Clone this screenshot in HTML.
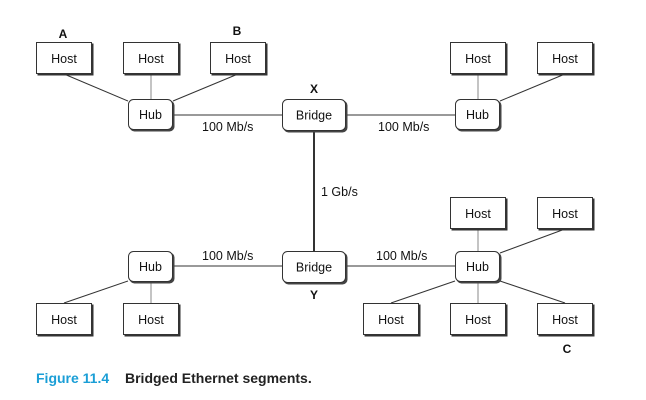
<!DOCTYPE html>
<html><head><meta charset="utf-8"><style>
html,body{margin:0;padding:0;background:#fff;}
svg{display:block;}
text{font-family:"Liberation Sans",Arial,sans-serif;}
</style></head><body>
<svg width="646" height="400" viewBox="0 0 646 400" xmlns="http://www.w3.org/2000/svg">
<g stroke="#333" stroke-width="1" fill="none">
<line x1="64" y1="74" x2="128" y2="101"/>
<line x1="151" y1="74" x2="151" y2="100" stroke="#888"/>
<line x1="238" y1="74" x2="173" y2="101"/>
<line x1="173" y1="115" x2="282" y2="115"/>
<line x1="346" y1="115" x2="455" y2="115"/>
<line x1="478" y1="74" x2="478" y2="100" stroke="#888"/>
<line x1="565" y1="74" x2="500" y2="101"/>
<line x1="314" y1="131" x2="314" y2="251" stroke-width="2"/>
<line x1="173" y1="266" x2="282" y2="266"/>
<line x1="346" y1="266" x2="455" y2="266"/>
<line x1="128" y1="281" x2="64" y2="303"/>
<line x1="151" y1="282" x2="151" y2="303" stroke="#888"/>
<line x1="478" y1="229" x2="478" y2="251" stroke="#888"/>
<line x1="565" y1="229" x2="500" y2="253"/>
<line x1="455" y1="281" x2="391" y2="303"/>
<line x1="478" y1="282" x2="478" y2="303" stroke="#888"/>
<line x1="500" y1="281" x2="565" y2="303"/>
</g>
<defs>
<g id="host">
<rect x="1.5" y="1.5" width="56" height="32" fill="#333"/>
<rect x="0.5" y="0.5" width="55" height="31" fill="#fff" stroke="#333"/>
<text x="28" y="21" font-size="12.5" text-anchor="middle" fill="#111">Host</text>
</g>
<g id="hub">
<rect x="1.5" y="1.5" width="45" height="31" rx="5" fill="#444"/>
<rect x="0.5" y="0.5" width="44" height="30" rx="5" fill="#fff" stroke="#333"/>
<text x="22.5" y="20" font-size="12.5" text-anchor="middle" fill="#111">Hub</text>
</g>
<g id="bridge">
<rect x="1.5" y="1.5" width="64" height="32" rx="5" fill="#444"/>
<rect x="0.5" y="0.5" width="63" height="31" rx="5" fill="#fff" stroke="#333"/>
<text x="32" y="20.5" font-size="12.5" text-anchor="middle" fill="#111">Bridge</text>
</g>
</defs>
<use href="#host" x="36" y="42"/>
<use href="#host" x="123" y="42"/>
<use href="#host" x="210" y="42"/>
<use href="#host" x="450" y="42"/>
<use href="#host" x="537" y="42"/>
<use href="#hub" x="128" y="99"/>
<use href="#hub" x="455" y="99"/>
<use href="#bridge" x="282" y="99"/>
<use href="#host" x="450" y="197"/>
<use href="#host" x="537" y="197"/>
<use href="#hub" x="128" y="251"/>
<use href="#bridge" x="282" y="251"/>
<use href="#hub" x="455" y="251"/>
<use href="#host" x="36" y="303"/>
<use href="#host" x="123" y="303"/>
<use href="#host" x="363" y="303"/>
<use href="#host" x="450" y="303"/>
<use href="#host" x="537" y="303"/>
<g font-size="12.5" fill="#111">
<text x="202" y="131">100 Mb/s</text>
<text x="378" y="131">100 Mb/s</text>
<text x="321" y="196">1 Gb/s</text>
<text x="202" y="260">100 Mb/s</text>
<text x="376" y="260">100 Mb/s</text>
</g>
<g font-size="12" font-weight="bold" fill="#111" text-anchor="middle">
<text x="63" y="38">A</text>
<text x="237" y="35">B</text>
<text x="314" y="93">X</text>
<text x="314" y="299">Y</text>
<text x="567" y="353">C</text>
</g>
<text x="36" y="383" font-size="14" font-weight="bold" fill="#1a9ed6">Figure 11.4</text>
<text x="125" y="383" font-size="14" font-weight="bold" fill="#222">Bridged Ethernet segments.</text>
</svg>
</body></html>
